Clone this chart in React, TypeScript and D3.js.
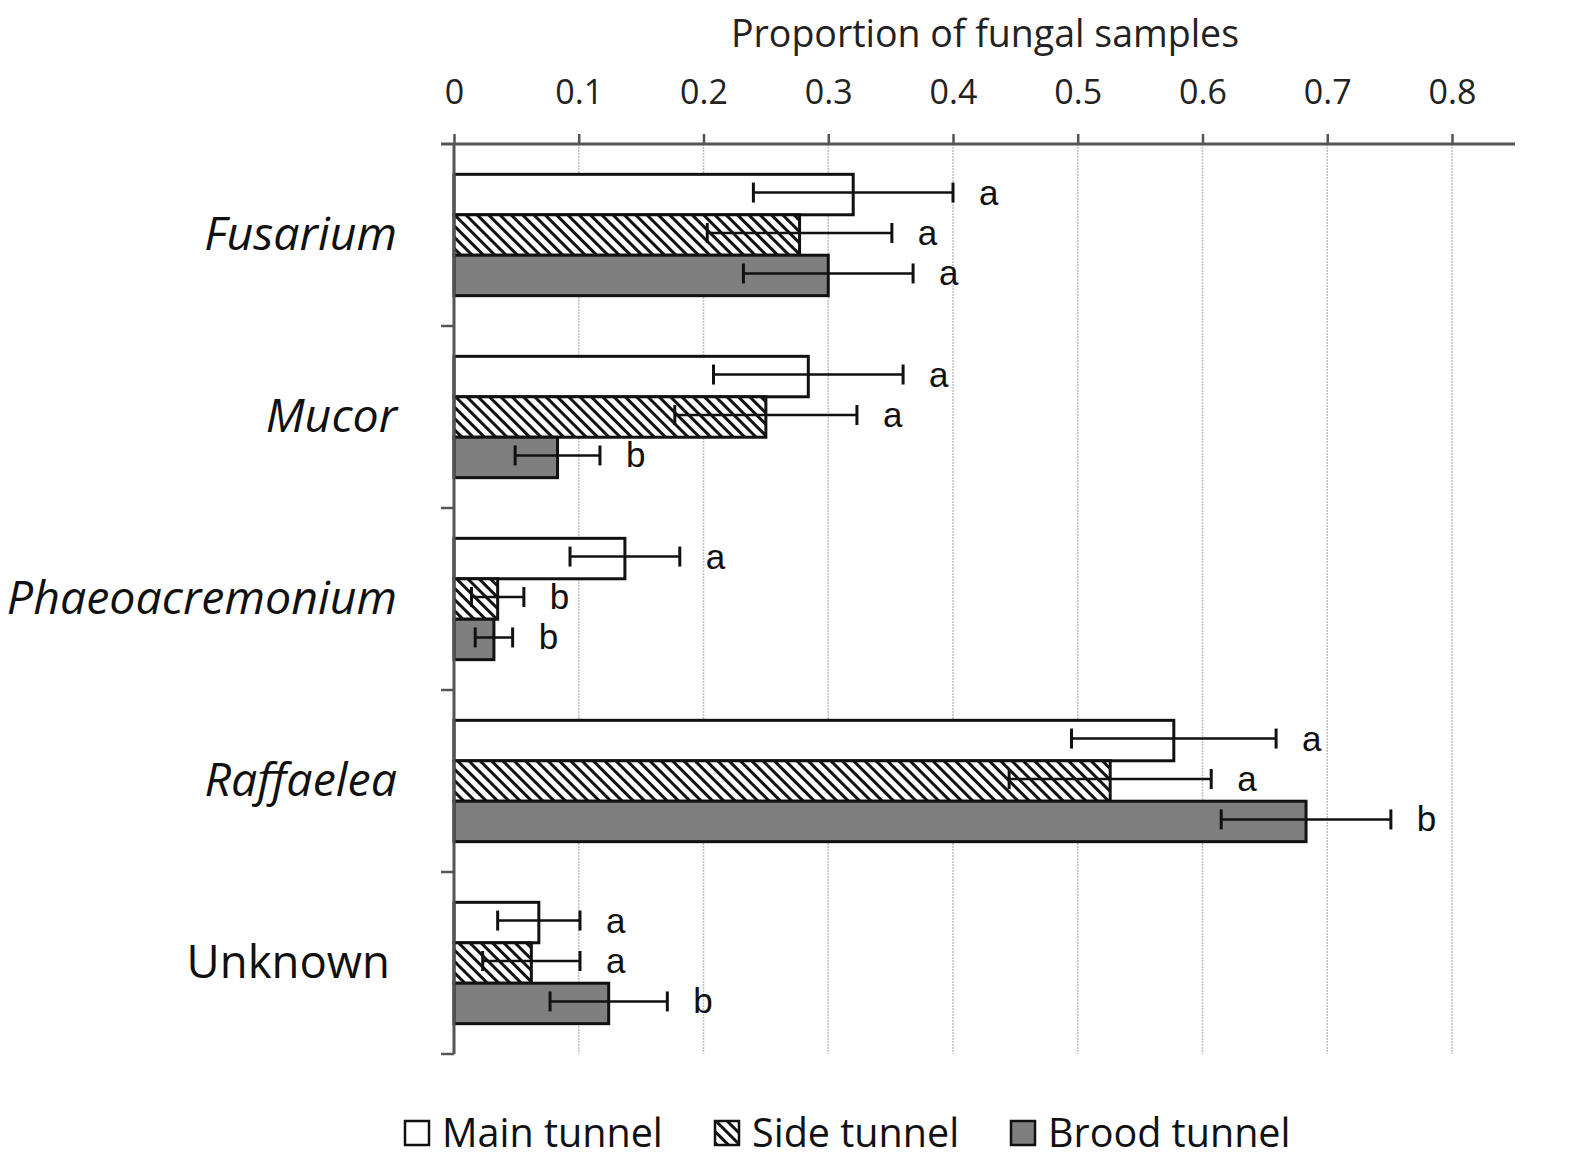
import React, { useRef, useEffect } from 'react';
import * as d3 from 'd3';

const genera = ['Fusarium', 'Mucor', 'Phaeoacremonium', 'Raffaelea', 'Unknown'];
const italicGenus = [true, true, true, true, false];
const seriesNames = ['Main tunnel', 'Side tunnel', 'Brood tunnel'];

const mainValues = [0.32, 0.284, 0.137, 0.577, 0.068];
const mainErr = [0.08, 0.076, 0.044, 0.082, 0.033];
const mainLetters = ['a', 'a', 'a', 'a', 'a'];

const sideValues = [0.277, 0.25, 0.035, 0.526, 0.062];
const sideErr = [0.074, 0.073, 0.021, 0.081, 0.039];
const sideLetters = ['a', 'a', 'b', 'a', 'a'];

const broodValues = [0.3, 0.083, 0.032, 0.683, 0.124];
const broodErr = [0.068, 0.034, 0.015, 0.068, 0.047];
const broodLetters = ['a', 'b', 'b', 'b', 'b'];

const xTicks = [0, 0.1, 0.2, 0.3, 0.4, 0.5, 0.6, 0.7, 0.8];

const FONT = '"Open Sans", "Noto Sans", sans-serif';

const App = () => {
  const svgRef = useRef(null);
  const width = 1583;
  const height = 1166;

  useEffect(() => {
    const svg = d3.select(svgRef.current);
    svg.selectAll('*').remove();

    const left = 454;
    const top = 144;
    const bottom = 1054;

    const x = d3.scaleLinear().domain([0, 0.8]).range([left, 1452]);
    const y = d3.scaleBand().domain(genera).range([top, bottom]).paddingInner(0).paddingOuter(0);
    const inner = d3.scaleBand().domain(seriesNames).range([0, y.bandwidth()]).paddingInner(0).paddingOuter(0.75);

    const defs = svg.append('defs');
    const pat = defs.append('pattern')
      .attr('id', 'hatch')
      .attr('patternUnits', 'userSpaceOnUse')
      .attr('width', 8).attr('height', 8)
      .attr('patternTransform', 'rotate(-45)');
    pat.append('rect').attr('width', 8).attr('height', 8).attr('fill', '#fff');
    pat.append('rect').attr('width', 3).attr('height', 8).attr('fill', '#111');

    const fills = ['#ffffff', 'url(#hatch)', '#7f7f7f'];

    // gridlines
    svg.append('g')
      .selectAll('line')
      .data(xTicks.slice(1))
      .join('line')
      .attr('x1', d => x(d)).attr('x2', d => x(d))
      .attr('y1', top).attr('y2', bottom)
      .attr('stroke', '#c0c0c0')
      .attr('stroke-width', 1.5)
      .attr('stroke-dasharray', '2,1');

    // top axis
    const axisTop = svg.append('g').attr('transform', `translate(0,${top})`)
      .call(d3.axisTop(x).tickValues(xTicks).tickSize(10).tickFormat(d => d === 0 ? '0' : d3.format('.1f')(d as number)));
    axisTop.select('.domain').remove();
    axisTop.selectAll('.tick line').attr('stroke', '#555').attr('stroke-width', 2.5);
    axisTop.selectAll('.tick text')
      .attr('y', -40)
      .attr('dy', null)
      .attr('font-family', FONT)
      .attr('font-size', 34)
      .attr('fill', '#222');
    svg.append('line').attr('x1', left - 13).attr('x2', 1515).attr('y1', top).attr('y2', top)
      .attr('stroke', '#555').attr('stroke-width', 3);

    svg.append('text')
      .attr('x', 985).attr('y', 47)
      .attr('text-anchor', 'middle')
      .attr('font-family', FONT)
      .attr('font-size', 37.5)
      .attr('fill', '#222')
      .text('Proportion of fungal samples');

    // bars
    const series = [
      { name: seriesNames[0], values: mainValues, err: mainErr, letters: mainLetters },
      { name: seriesNames[1], values: sideValues, err: sideErr, letters: sideLetters },
      { name: seriesNames[2], values: broodValues, err: broodErr, letters: broodLetters },
    ];

    series.forEach((s, si) => {
      const g = svg.append('g');
      genera.forEach((gen, gi) => {
        const y0 = (y(gen) as number) + (inner(s.name) as number);
        const h = inner.bandwidth();
        const v = s.values[gi];
        const e = s.err[gi];
        const cy = y0 + h / 2 - 2;
        g.append('rect')
          .attr('x', x(0)).attr('y', y0)
          .attr('width', x(v) - x(0)).attr('height', h)
          .attr('fill', fills[si])
          .attr('stroke', '#111').attr('stroke-width', 3);
        g.append('line')
          .attr('x1', x(v - e)).attr('x2', x(v + e)).attr('y1', cy).attr('y2', cy)
          .attr('stroke', '#111').attr('stroke-width', 2.5);
        [v - e, v + e].forEach(p => {
          g.append('line')
            .attr('x1', x(p)).attr('x2', x(p)).attr('y1', cy - 10).attr('y2', cy + 10)
            .attr('stroke', '#111').attr('stroke-width', 3);
        });
        g.append('text')
          .attr('x', x(v + e) + 26).attr('y', cy + 12)
          .attr('font-family', '"Liberation Sans", Arial, sans-serif')
          .attr('font-size', 35)
          .attr('fill', '#111')
          .text(s.letters[gi]);
      });
    });

    // left axis
    svg.append('line').attr('x1', left).attr('x2', left).attr('y1', top).attr('y2', bottom)
      .attr('stroke', '#555').attr('stroke-width', 3);
    const bounds = genera.map(g => (y(g) as number) + y.bandwidth());
    svg.append('g').selectAll('line').data(bounds).join('line')
      .attr('x1', left - 13).attr('x2', left).attr('y1', d => d).attr('y2', d => d)
      .attr('stroke', '#555').attr('stroke-width', 2.5);

    svg.append('g').selectAll('text').data(genera).join('text')
      .attr('x', (d, i) => italicGenus[i] ? 397 : 390)
      .attr('y', d => (y(d) as number) + y.bandwidth() / 2 + 15)
      .attr('text-anchor', 'end')
      .attr('font-family', FONT)
      .attr('font-size', (d, i) => italicGenus[i] ? 46.5 : 45.5)
      .attr('font-style', (d, i) => italicGenus[i] ? 'italic' : 'normal')
      .attr('fill', '#111')
      .text(d => d);

    // legend
    const legendX = [405, 715, 1011];
    const leg = svg.append('g');
    seriesNames.forEach((n, i) => {
      leg.append('rect')
        .attr('x', legendX[i]).attr('y', 1121).attr('width', 24).attr('height', 24)
        .attr('fill', fills[i]).attr('stroke', '#111').attr('stroke-width', 2.5);
      leg.append('text')
        .attr('x', legendX[i] + 37).attr('y', 1147)
        .attr('font-family', FONT)
        .attr('font-size', 39.5)
        .attr('fill', '#111')
        .text(n);
    });
  }, []);

  return (
    <svg
      ref={svgRef}
      width={width}
      height={height}
      style={{ position: 'fixed', left: 0, top: 0, display: 'block', background: '#fff' }}
    ></svg>
  );
};

export default App;
